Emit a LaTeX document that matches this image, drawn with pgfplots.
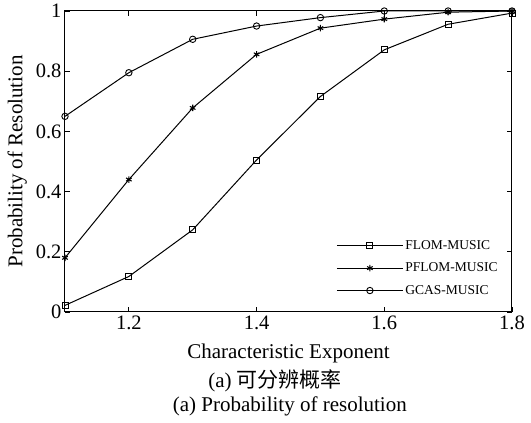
\documentclass[border=0pt]{standalone}
\usepackage{fontspec}
\setmainfont{Liberation Serif}
\newfontfamily\cjk{Noto Sans CJK SC}
\usepackage{pgfplots}
\pgfplotsset{compat=1.18}

% resolution probability vs. characteristic exponent
\pgfplotstableread{
x     flom   pflom  gcas
1.1   0.022  0.180  0.650
1.2   0.118  0.440  0.795
1.3   0.273  0.678  0.906
1.4   0.505  0.856  0.950
1.5   0.716  0.943  0.978
1.6   0.871  0.973  1.000
1.7   0.956  0.996  1.000
1.8   0.993  1.000  1.000
}\resdata

\begin{document}
\begin{tikzpicture}
\begin{axis}[
  scale only axis, width=447pt, height=301pt,
  xmin=1.1, xmax=1.8, ymin=0, ymax=1,
  xtick={1.2,1.4,1.6,1.8},
  xticklabels={1.2,1.4,1.6,1.8},
  ytick={0,0.2,0.4,0.6,0.8,1},
  yticklabels={0,0.2,0.4,0.6,0.8,1},
  tick align=inside, tick pos=both,
  xticklabel pos=bottom, yticklabel pos=left,
  major tick length=5pt,
  axis line style={line width=1pt},
  tick style={line width=0.9pt, black},
  /pgf/number format/assume math mode=true,
  tick label style={font=\fontsize{20.5}{20.5}\selectfont},
  label style={font=\fontsize{21}{21}\selectfont},
  xlabel={Characteristic Exponent},
  xlabel style={yshift=-8pt},
  ylabel={Probability of Resolution},
  ylabel style={yshift=2pt},
  clip=false,
  legend style={draw=none, fill=none, font=\fontsize{13.5}{13.5}\selectfont,
    at={(rel axis cs:0.6,0.04)}, anchor=south west,
    row sep=8pt},
  legend cell align=left,
  legend image code/.code={\draw[mark repeat=2,mark phase=2,#1]
    plot coordinates {(0pt,0pt) (33pt,0pt) (66pt,0pt)};},
  every axis plot/.append style={black, line width=1pt},
]
\addplot[mark=square, mark size=3pt, mark options={solid, line width=0.9pt}]
  table[x=x, y=flom] {\resdata};
\addlegendentry{FLOM-MUSIC}
\addplot[mark=asterisk, mark size=3.2pt, mark options={solid, line width=1.1pt}]
  table[x=x, y=pflom] {\resdata};
\addlegendentry{PFLOM-MUSIC}
\addplot[mark=o, mark size=3.2pt, mark options={solid, line width=0.9pt}]
  table[x=x, y=gcas] {\resdata};
\addlegendentry{GCAS-MUSIC}

\node[anchor=base, font=\fontsize{21}{21}\selectfont]
  at (rel axis cs:0.47,-0.252) {(a) {\cjk 可分辨概率}};
\node[anchor=base, font=\fontsize{21}{21}\selectfont]
  at (rel axis cs:0.503,-0.332) {(a) Probability of resolution};
\end{axis}
\path (current axis.south west) ++(-65pt,-111pt) rectangle ++(531pt,423pt);
\end{tikzpicture}
\end{document}
